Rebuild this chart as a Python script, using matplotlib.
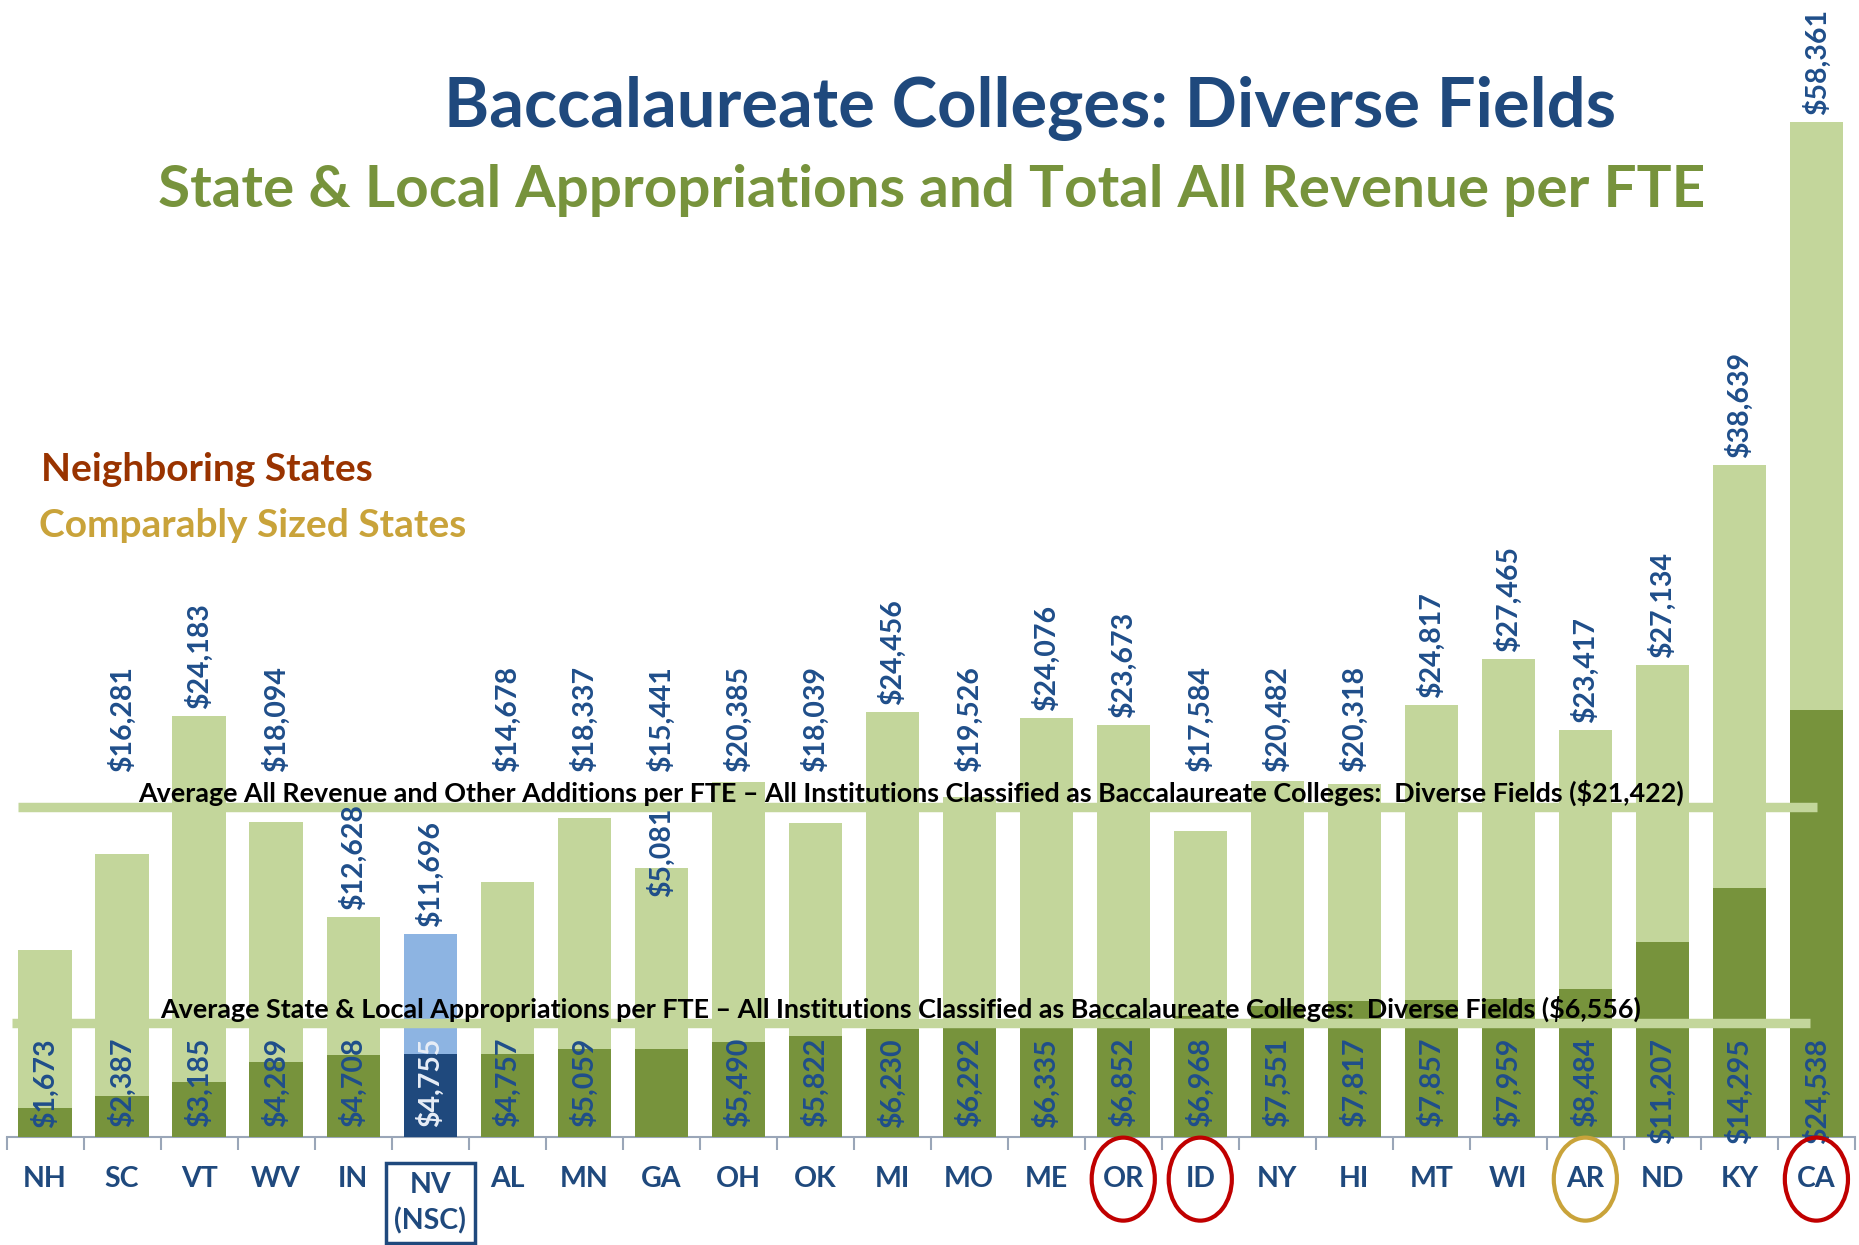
import matplotlib.pyplot as plt
from matplotlib.patches import Ellipse
import numpy as np

plt.rcParams['font.family'] = ['Lato', 'DejaVu Sans']

# 1. Data
states = ['NH', 'SC', 'VT', 'WV', 'IN', 'NV', 'AL', 'MN', 'GA', 'OH', 'OK', 'MI',
          'MO', 'ME', 'OR', 'ID', 'NY', 'HI', 'MT', 'WI', 'AR', 'ND', 'KY', 'CA']
total_rev = [10750, 16281, 24183, 18094, 12628, 11696, 14678, 18337, 15441, 20385,
             18039, 24456, 19526, 24076, 23673, 17584, 20482, 20318, 24817, 27465,
             23417, 27134, 38639, 58361]
approp = [1673, 2387, 3185, 4289, 4708, 4755, 4757, 5059, 5081, 5490, 5822, 6230,
          6292, 6335, 6852, 6968, 7551, 7817, 7857, 7959, 8484, 11207, 14295, 24538]
avg_total = 21422
avg_approp = 6556

highlight = 'NV'
neighboring = ['OR', 'ID', 'CA']
comparable = ['AR']
unlabeled_total = ['NH']      # the slide shows no total for NH
raised_approp = ['GA']        # GA's appropriation label sits up under the top line

# colours
light_green = '#C3D69B'
dark_green = '#77933C'
nv_light = '#8DB4E2'
nv_dark = '#1F497D'
label_blue = '#1F4E8A'

# 2. Figure / axes
fig = plt.figure(figsize=(18.59, 12.45), dpi=100)
ax = fig.add_axes([0.0035, 0.0867, 0.9943, 0.9133])
ax.set_xlim(-0.5, len(states) - 0.5)
ax.set_ylim(0, 65370)

x = np.arange(len(states))
light_cols = [nv_light if s == highlight else light_green for s in states]
dark_cols = [nv_dark if s == highlight else dark_green for s in states]

ax.bar(x, total_rev, width=0.69, color=light_cols, zorder=2)
ax.bar(x, approp, width=0.69, color=dark_cols, zorder=3)

# 3. Average lines (the top one is drawn lower than its value, as on the slide)
upper_line_at = 18950
ax.plot([-0.35, 23.01], [upper_line_at, upper_line_at], color=light_green, lw=6.8,
        solid_capstyle='butt', zorder=4)
ax.plot([-0.43, 22.92], [avg_approp, avg_approp], color=light_green, lw=6.8,
        solid_capstyle='butt', zorder=4)
ax.text(11.24, upper_line_at + 330,
        'Average All Revenue and Other Additions per FTE \u2013 All Institutions Classified as '
        'Baccalaureate Colleges:  Diverse Fields (${:,})'.format(avg_total),
        ha='center', va='baseline', fontsize=19.4, fontweight='bold', color='black', zorder=6)
ax.text(11.11, avg_approp + 330,
        'Average State & Local Appropriations per FTE \u2013 All Institutions Classified as '
        'Baccalaureate Colleges:  Diverse Fields (${:,})'.format(avg_approp),
        ha='center', va='baseline', fontsize=19.4, fontweight='bold', color='black', zorder=6)

# 4. Value labels
label_floor = 20600
for i, (s, v) in enumerate(zip(states, total_rev)):
    if s in unlabeled_total:
        continue
    anchor = v if (v < 13000 or v > label_floor) else label_floor
    ax.annotate('${:,}'.format(v), (i, anchor), xytext=(0, 5), textcoords='offset points',
                rotation=90, ha='center', va='bottom', fontsize=20.5, fontweight='bold',
                color=label_blue, zorder=5)

for i, (s, v) in enumerate(zip(states, approp)):
    y = upper_line_at if s in raised_approp else 5700
    col = '#E8EEF7' if s == highlight else label_blue
    ax.text(i, y, '${:,}'.format(v), rotation=90, ha='center', va='top',
            fontsize=20.5, fontweight='bold', color=col, zorder=5)

# 5. Axis styling
for sp in ['top', 'left', 'right']:
    ax.spines[sp].set_visible(False)
ax.spines['bottom'].set_color('#9AA6B8')
ax.spines['bottom'].set_linewidth(1.5)
ax.set_yticks([])
ax.set_xticks(np.arange(-0.5, len(states), 1))
ax.tick_params(axis='x', length=9, width=1.5, color='#9AA6B8', labelbottom=False)

tr = ax.get_xaxis_transform()
for i, s in enumerate(states):
    if s == highlight:
        ax.text(i, -0.0815, s + '\n(NSC)', transform=tr, ha='center', va='baseline',
                fontsize=20.5, fontweight='bold', color=nv_dark, linespacing=1.45,
                bbox=dict(boxstyle='square,pad=0.3', fc='none', ec=nv_dark, lw=2.5))
    else:
        ax.text(i, -0.0365, s, transform=tr, ha='center', va='center',
                fontsize=20.5, fontweight='bold', color=nv_dark)
    if s in neighboring or s in comparable:
        ec = '#C00000' if s in neighboring else '#C9A33A'
        ax.add_patch(Ellipse((i, -0.037), width=0.82, height=0.073, transform=tr,
                             fill=False, ec=ec, lw=3, clip_on=False, zorder=6))

# 6. Titles and legend text
fig.text(0.554, 0.913, 'Baccalaureate Colleges: Diverse Fields', ha='center', va='center',
         fontsize=49.5, fontweight='bold', color=nv_dark)
fig.text(0.501, 0.847, 'State & Local Appropriations and Total All Revenue per FTE',
         ha='center', va='center', fontsize=42, fontweight='bold', color=dark_green)
fig.text(0.022, 0.6225, 'Neighboring States', ha='left', va='center',
         fontsize=28, fontweight='bold', color='#993300')
fig.text(0.021, 0.578, 'Comparably Sized States', ha='left', va='center',
         fontsize=28, fontweight='bold', color='#C9A33A')

fig.savefig('out.png', dpi=100)
